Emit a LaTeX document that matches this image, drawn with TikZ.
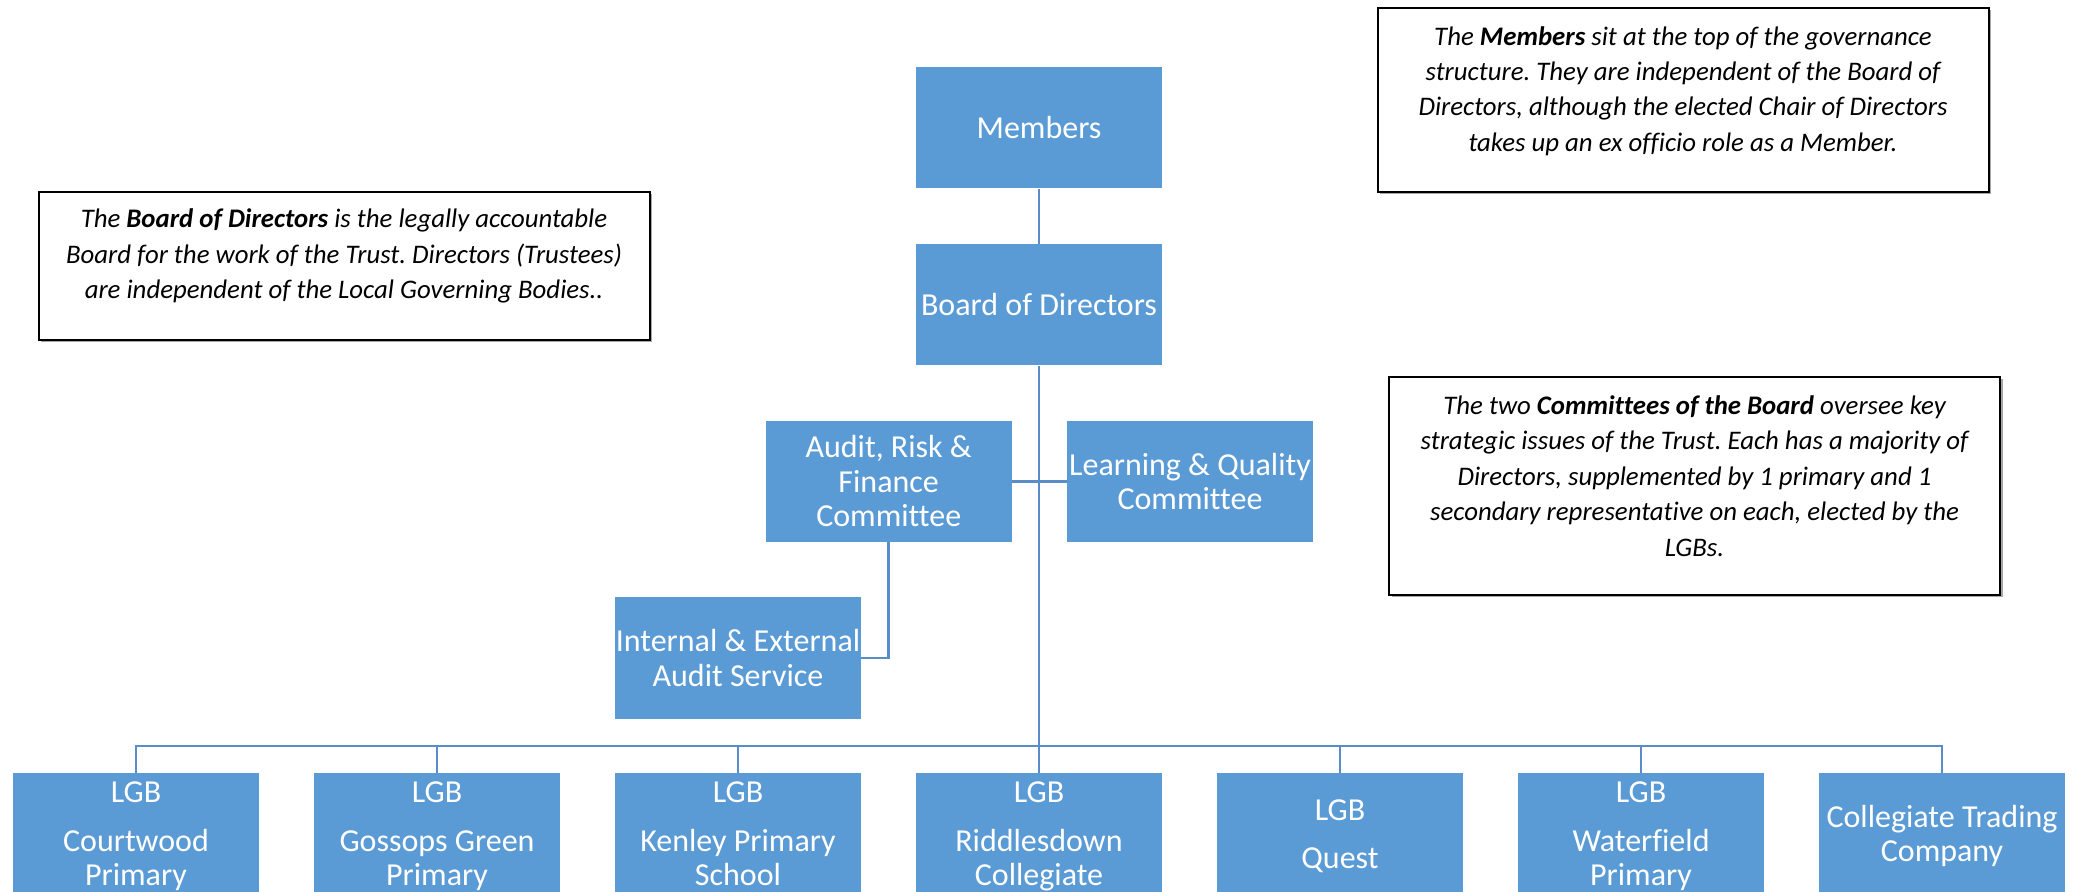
\documentclass[tikz,border=0pt]{standalone}
\usepackage{fontspec}
\setmainfont{Carlito}[Ligatures=NoCommon]
\definecolor{boxblue}{HTML}{5B9BD5}
\definecolor{lineblue}{HTML}{5A8DC8}
\definecolor{shadowgray}{HTML}{A6A6A6}
\begin{document}
\frenchspacing
\begin{tikzpicture}[x=0.5pt,y=-0.5pt,
  orgbox/.style={rectangle, fill=boxblue, text=white, minimum width=123pt, minimum height=60.5pt, inner sep=0pt, align=center, font=\fontsize{16}{17.25}\selectfont},
  lgbbox/.style={orgbox, minimum height=64.5pt},
  link/.style={draw=lineblue, line width=1.4pt},
  notebox/.style={rectangle, draw=black, line width=1pt, fill=white, minimum width=305.5pt, inner sep=0pt},
  notetext/.style={align=center, font=\fontsize{13.4}{17.7}\selectfont\itshape, inner sep=0pt}]
\useasboundingbox (0,0) rectangle (2078,892);
\clip (0,0) rectangle (2078,892);

\coordinate (bus) at (1039,746);

% org boxes
\node[orgbox] (mem) at (1039,128) {Members};
\node[orgbox] (bod) at (1039,305) {Board of Directors};
\node[orgbox] (arf) at (888.7,481.5) {Audit, Risk \&\\Finance\\Committee};
\node[orgbox] (lqc) at (1190,481.5) {Learning \& Quality\\Committee};
\node[orgbox] (iea) at (738,658) {Internal \& External\\Audit Service};

\node[lgbbox] (cw) at (136,837.5) {\strut LGB\\[7pt]Courtwood\\Primary\strut};
\node[lgbbox] (gg) at (437,837.5) {\strut LGB\\[7pt]Gossops Green\\Primary\strut};
\node[lgbbox] (kp) at (738,837.5) {\strut LGB\\[7pt]Kenley Primary\\School\strut};
\node[lgbbox] (rc) at (1039,837.5) {\strut LGB\\[7pt]Riddlesdown\\Collegiate\strut};
\node[lgbbox] (qu) at (1340,837.5) {\strut LGB\\[7pt]Quest\strut};
\node[lgbbox] (wp) at (1641,837.5) {\strut LGB\\[7pt]Waterfield\\Primary\strut};
\node[lgbbox] (ct) at (1942,837.5) {\strut Collegiate Trading\\Company\strut};

% links
\draw[link] (mem.south) -- (bod.north);
\draw[link] (bod.south) -- (rc.north);
\draw[link] (arf.east) -- (lqc.west);
\draw[link] (arf.south) |- (iea.east);
\draw[link] (cw.north) |- (bus) -| (ct.north);
\draw[link] (gg.north) -- (gg.north |- bus);
\draw[link] (kp.north) -- (kp.north |- bus);
\draw[link] (qu.north) -- (qu.north |- bus);
\draw[link] (wp.north) -- (wp.north |- bus);

% note boxes
\fill[shadowgray] (1380,10.5) rectangle (1991,194.5);
\node[notebox, minimum height=92pt] (memnote) at (1683,100.3) {};
\node[notetext] (memtext) at (1683,91) {The \textbf{Members} sit at the top of the governance\\structure. They are independent of the Board of\\Directors, although the elected Chair of Directors\\takes up an ex officio role as a Member.};

\fill[shadowgray] (41,194) rectangle (652,342.5);
\node[notebox, minimum height=74.2pt] (bodnote) at (344,265.9) {};
\node[notetext] (bodtext) at (344,256) {The \textbf{Board of Directors} is the legally accountable\\Board for the work of the Trust. Directors (Trustees)\\are independent of the Local Governing Bodies..};

\fill[shadowgray] (1391.5,379) rectangle (2002.5,597.5);
\node[notebox, minimum height=109.3pt] (comnote) at (1694.5,486) {};
\node[notetext] (comtext) at (1694.5,476) {The two \textbf{Committees of the Board} oversee key\\strategic issues of the Trust. Each has a majority of\\Directors, supplemented by 1 primary and 1\\secondary representative on each, elected by the\\LGBs.};
\end{tikzpicture}
\end{document}
